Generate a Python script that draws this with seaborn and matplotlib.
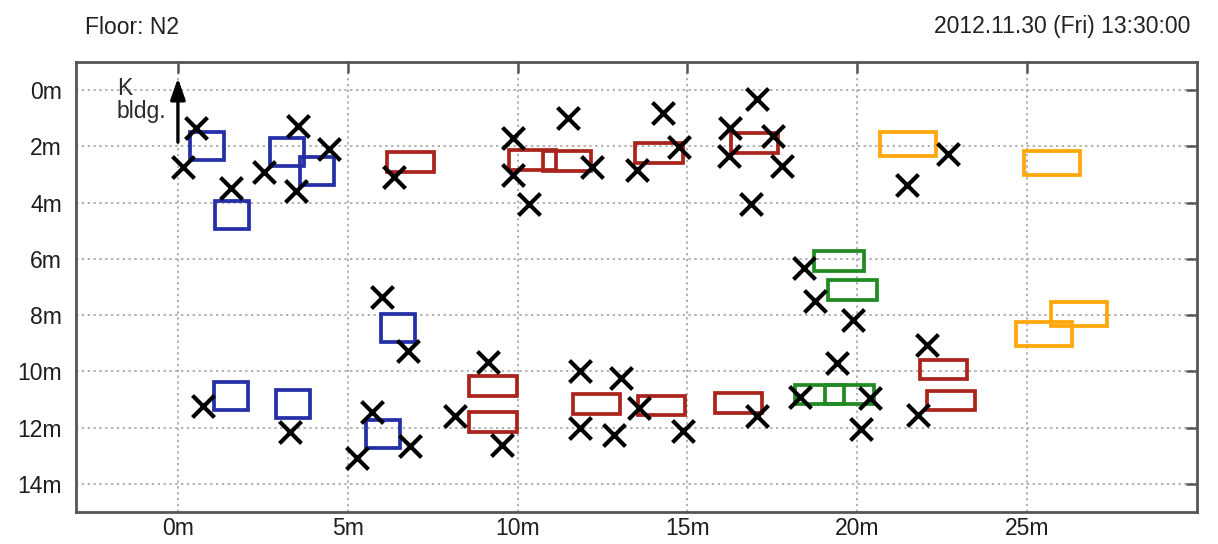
import matplotlib
matplotlib.use("Agg")
import matplotlib.pyplot as plt
from matplotlib.patches import Rectangle
import seaborn as sns
import pandas as pd

# --- floor plan data (metres) ---------------------------------------------
floor_name = "Floor: N2"
timestamp = "2012.11.30 (Fri) 13:30:00"

# detected people (x, y)
people_x = [0.14, 0.53, 1.56, 2.53, 3.53, 3.47, 4.45, 6.36, 9.86, 9.86, 11.48,
            10.34, 12.19, 14.28, 13.52, 14.75, 16.25, 16.22, 17.05, 17.52,
            17.79, 16.87, 22.67, 21.47,
            18.43, 18.76, 19.88, 6.01, 6.77, 19.41, 22.06,
            0.74, 3.30, 5.71, 5.27, 6.83, 9.13, 8.16, 9.54, 11.84, 11.84,
            13.04, 12.84, 13.57, 14.87, 17.05, 18.32, 20.38, 20.11, 21.79]
people_y = [2.74, 1.35, 3.49, 2.92, 1.28, 3.60, 2.10, 3.10, 1.71, 3.03, 1.00,
            4.06, 2.74, 0.82, 2.85, 2.03, 1.35, 2.35, 0.32, 1.64,
            2.71, 4.06, 2.28, 3.38,
            6.31, 7.48, 8.16, 7.37, 9.26, 9.69, 9.05,
            11.22, 12.15, 11.44, 13.07, 12.65, 9.65, 11.58, 12.61, 9.98, 12.00,
            10.22, 12.26, 11.29, 12.11, 11.58, 10.90, 10.94, 12.04, 11.54]

# furniture centres per group
blue_x = [0.85, 1.60, 3.21, 4.09, 1.57, 3.38, 6.03, 6.49]
blue_y = [1.98, 4.43, 2.21, 2.88, 10.89, 11.17, 12.24, 8.45]

red_x = [6.85, 10.44, 11.46, 14.16, 16.97, 9.28, 9.28, 12.32, 14.24, 16.50,
         22.54, 22.76]
red_y = [2.56, 2.49, 2.53, 2.24, 1.87, 10.53, 11.81, 11.17, 11.21, 11.12,
         9.93, 11.03]

green_x = [19.46, 19.85, 18.88, 19.76]
green_y = [6.07, 7.10, 10.82, 10.82]

orange_x = [21.49, 25.74, 26.53, 25.49]
orange_y = [1.92, 2.60, 7.97, 8.68]

x_ticks = [0, 5, 10, 15, 20, 25]
x_tick_labels = ["0m", "5m", "10m", "15m", "20m", "25m"]
y_ticks = [0, 2, 4, 6, 8, 10, 12, 14]
y_tick_labels = ["0m", "2m", "4m", "6m", "8m", "10m", "12m", "14m"]

arrow_label = "K\nbldg."

# --- styling ----------------------------------------------------------------
groups = [
    # centres x, centres y, footprint (w, d), colour
    (blue_x, blue_y, (1.0, 1.0), "#2530a8"),
    (red_x, red_y, (1.4, 0.7), "#a8241c"),
    (green_x, green_y, (1.45, 0.7), "#228a22"),
    (orange_x, orange_y, (1.65, 0.85), "#ffa60a"),
]

sns.set_theme(style="white")
plt.rcParams["font.family"] = ["Liberation Sans", "DejaVu Sans"]

fig = plt.figure(figsize=(12.18, 5.44), dpi=100)
ax = fig.add_axes([76 / 1218, 32 / 544, (1197 - 76) / 1218, (512 - 62) / 544])

for xs, ys, (w, d), col in groups:
    for cx, cy in zip(xs, ys):
        ax.add_patch(Rectangle((cx - w / 2, cy - d / 2), w, d, fill=False,
                               edgecolor=col, linewidth=2.7, zorder=2))

people = pd.DataFrame({"x": people_x, "y": people_y})
sns.scatterplot(data=people, x="x", y="y", marker="x", s=250, color="black",
                linewidth=3.0, ax=ax, zorder=3)

ax.set_xlim(-3, 30)
ax.set_ylim(15, -1)
ax.set_xlabel("")
ax.set_ylabel("")
ax.set_xticks(x_ticks)
ax.set_xticklabels(x_tick_labels)
ax.set_yticks(y_ticks)
ax.set_yticklabels(y_tick_labels)

ax.grid(True, linestyle=(0, (1.2, 1.8)), color="#b0b0b0", linewidth=1.4,
        zorder=0)
ax.set_axisbelow(True)
ax.tick_params(axis="both", direction="in", top=True, right=True, length=8,
               width=1.8, color="#555555", labelsize=16.5, labelcolor="#1e1e1e")
ax.tick_params(axis="x", pad=3.5)
ax.tick_params(axis="y", pad=10)
for sp in ax.spines.values():
    sp.set_visible(True)
    sp.set_color("#555555")
    sp.set_linewidth(2.0)

# direction marker toward the neighbouring building
ax.annotate("", xy=(0, -0.43), xytext=(0, 1.85),
            arrowprops=dict(arrowstyle="-|>,head_length=0.8,head_width=0.28",
                            mutation_scale=16, lw=2.4, color="black",
                            shrinkA=0, shrinkB=0), zorder=4)
ax.text(-1.8, -0.45, arrow_label, ha="left", va="top", fontsize=16.5,
        color="#2a2a2a", linespacing=1.0, zorder=4)

fig.text(85 / 1218, 1 - 27 / 544, floor_name, ha="left", va="center",
         fontsize=16.5, color="#222222")
fig.text(1190 / 1218, 1 - 27 / 544, timestamp, ha="right", va="center",
         fontsize=16.5, color="#222222")

fig.savefig("out.png", dpi=100)
